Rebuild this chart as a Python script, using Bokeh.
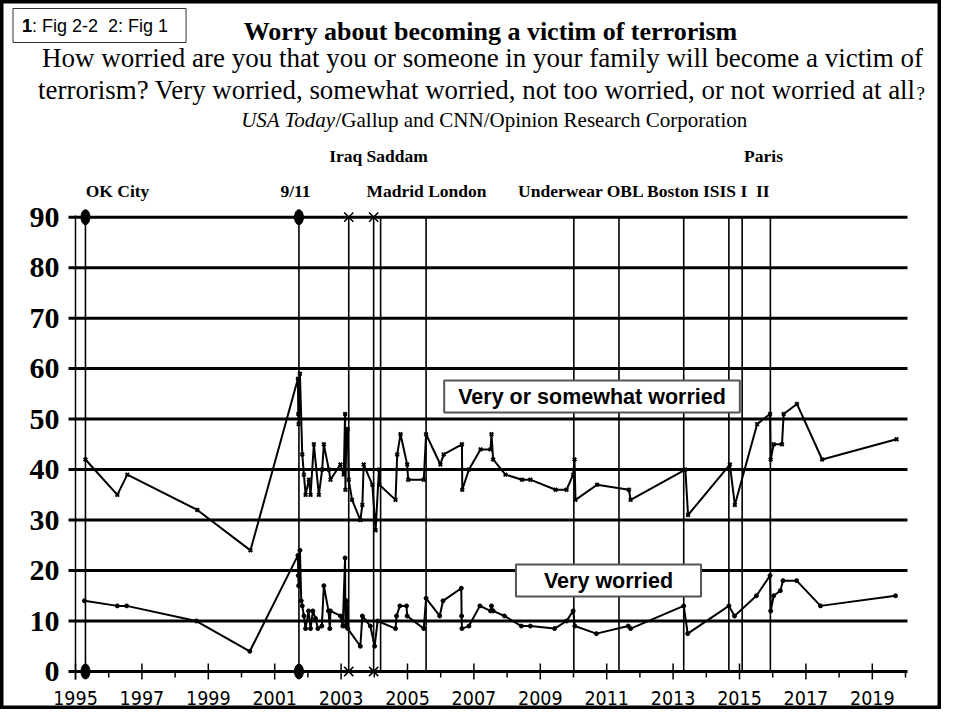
from bokeh.plotting import figure
from bokeh.models import Label, Range1d
from bokeh.embed import file_html
from bokeh.resources import INLINE
from bokeh.core.properties import value

# ---------------- data ----------------
somewhat_years = [1995.30, 1996.26, 1996.56, 1998.67, 2000.27,
                  2001.70, 2001.71, 2001.72, 2001.76, 2001.83,
                  2001.88, 2001.93, 2002.03, 2002.08, 2002.18,
                  2002.33, 2002.43, 2002.48, 2002.63, 2002.68,
                  2002.98, 2003.08, 2003.12, 2003.13, 2003.16,
                  2003.20, 2003.23, 2003.33, 2003.58, 2003.64,
                  2003.68, 2003.94, 2004.04, 2004.14, 2004.15,
                  2004.64, 2004.69, 2004.79, 2004.99, 2005.02,
                  2005.49, 2005.56, 2005.99, 2006.09, 2006.64,
                  2006.65, 2006.85, 2007.20, 2007.50, 2007.53,
                  2007.58, 2007.95, 2008.45, 2008.70, 2009.46,
                  2009.79, 2009.99, 2010.03, 2010.06, 2010.71,
                  2011.67, 2011.72, 2013.37, 2013.45, 2014.71,
                  2014.86, 2015.53, 2015.92, 2015.94, 2016.03,
                  2016.28, 2016.33, 2016.73, 2017.49, 2019.73]
somewhat_vals = [42, 35, 39, 32, 24,
                 58, 51, 49, 59, 43,
                 39, 35, 38, 35, 45,
                 35, 40, 45, 40, 38,
                 41, 39, 51, 36, 48,
                 48, 38, 34, 30, 33,
                 41, 37, 28, 40, 37,
                 34, 43, 47, 41, 38,
                 38, 47, 41, 43, 45,
                 36, 40, 44, 44, 47,
                 42, 39, 38, 38, 36,
                 36, 39, 42, 34, 37,
                 36, 34, 40, 31, 41,
                 33, 49, 51, 42, 45,
                 45, 51, 53, 42, 46]

very_years = [1995.27, 1996.26, 1996.54, 1998.64, 2000.25,
              2001.70, 2001.71, 2001.72, 2001.76, 2001.80,
              2001.83, 2001.88, 2001.93, 2002.02, 2002.08,
              2002.15, 2002.23, 2002.30, 2002.42, 2002.48,
              2002.62, 2002.66, 2002.68, 2002.98, 2003.05,
              2003.12, 2003.13, 2003.17, 2003.20, 2003.58,
              2003.64, 2003.88, 2004.01, 2004.10, 2004.64,
              2004.67, 2004.77, 2004.97, 2004.99, 2005.49,
              2005.56, 2005.97, 2006.07, 2006.62, 2006.63,
              2006.64, 2006.85, 2007.18, 2007.50, 2007.53,
              2007.58, 2007.92, 2008.43, 2008.70, 2009.43,
              2009.79, 2009.99, 2010.04, 2010.69, 2011.65,
              2011.72, 2013.32, 2013.44, 2014.68, 2014.85,
              2015.51, 2015.92, 2015.94, 2016.03, 2016.23,
              2016.31, 2016.72, 2017.44, 2019.70]
very_vals = [14, 13, 13, 10, 4,
             23, 19, 17, 24, 14,
             13, 11, 8.5, 12, 8.5,
             12, 10.5, 8.5, 9, 17,
             12, 8.5, 12, 11, 9,
             22.5, 9, 14, 8.5, 5,
             11, 9, 5, 10, 8.5,
             11, 13, 13, 11, 8.5,
             14.5, 11, 14, 16.5, 11,
             8.5, 9, 13, 12, 13,
             12, 11, 9, 9, 8.5,
             10, 12, 9, 7.5, 9,
             8.5, 13, 7.5, 13, 11,
             15, 19, 12, 15, 16,
             18, 18, 13, 15]

event_names = ["OK City", "9/11", "Iraq", "Saddam", "Madrid", "London",
               "Underwear", "OBL", "Boston", "ISIS I", "ISIS II", "Paris"]
event_dates = [1995.30, 2001.73, 2003.23, 2003.98, 2004.19, 2005.56,
               2010.01, 2011.37, 2013.32, 2014.68, 2015.08, 2015.93]
event_marks = ["dot", "dot", "x", "x", "", "", "", "", "", "", "", ""]

header_row1 = ["Iraq Saddam", "Paris"]
header_row2 = ["OK City", "9/11", "Madrid London", "Underwear OBL Boston ISIS I\u00a0 II"]

y_ticks = [0, 10, 20, 30, 40, 50, 60, 70, 80, 90]
y_tick_labels = ["0", "10", "20", "30", "40", "50", "60", "70", "80", "90"]
x_ticks = [1995, 1997, 1999, 2001, 2003, 2005, 2007, 2009, 2011, 2013, 2015, 2017, 2019]
x_tick_labels = ["1995", "1997", "1999", "2001", "2003", "2005", "2007", "2009",
                 "2011", "2013", "2015", "2017", "2019"]
x_minor = [1996, 1998, 2000, 2002, 2004, 2006, 2008, 2010, 2012, 2014, 2016, 2018, 2020]

title = "Worry about becoming a victim of terrorism"
sub1 = "How worried are you that you or someone in your family will become a victim of"
sub2 = "terrorism? Very worried, somewhat worried, not too worried, or not worried at all"
sub2_end = "?"
src_italic = "USA Today"
src_rest = "/Gallup and CNN/Opinion Research Corporation"
fig_tag = "1: Fig 2-2\u00a0 2: Fig 1"
label_vs = "Very or somewhat worried"
label_v = "Very worried"

# ---------------- layout (figure px) ----------------
W, H = 941, 709
X0_PX, Y0_PX = 75, 671          # px of year 1995 / value 0
PX_YR, PX_PT = 33.2, 5.048

x_start = 1995 - X0_PX / PX_YR
x_end = x_start + W / PX_YR
y_end = Y0_PX / PX_PT
y_start = y_end - H / PX_PT


def dx(px):  # figure px -> data x (text placement)
    return 1995 + (px - X0_PX) / PX_YR


def dy(py):
    return (Y0_PX - py) / PX_PT


p = figure(width=W, height=H, output_backend="svg", toolbar_location=None,
           x_range=Range1d(x_start, x_end), y_range=Range1d(y_start, y_end),
           x_axis_location=None, y_axis_location=None,
           min_border=0)
p.min_border_left = p.min_border_right = p.min_border_top = p.min_border_bottom = 0
for g in p.grid:
    g.visible = False
p.background_fill_color = "white"
p.border_fill_color = "white"
p.outline_line_color = "black"
p.outline_line_width = 6

# horizontal grid lines (from a bit left of 1995 to 2020)
gx0, gx1 = dx(68), dx(907)
p.segment(x0=[gx0] * len(y_ticks), y0=y_ticks, x1=[gx1] * len(y_ticks), y1=y_ticks,
          line_color="black", line_width=3)

# left axis line at 1995 and x ticks
p.segment(x0=[x_ticks[0]], y0=[dy(679)], x1=[x_ticks[0]], y1=[dy(215)],
          line_color="black", line_width=1.5)
p.segment(x0=x_ticks, y0=[dy(679)] * len(x_ticks), x1=x_ticks, y1=[dy(663)] * len(x_ticks),
          line_color="black", line_width=1.5)
p.segment(x0=x_minor, y0=[dy(677)] * len(x_minor), x1=x_minor, y1=[dy(671)] * len(x_minor),
          line_color="black", line_width=1.5)

# tick labels
p.text(x=x_ticks, y=[dy(697)] * len(x_ticks), text=x_tick_labels,
       text_font=value("'Liberation Sans Narrow', 'DejaVu Sans Condensed', sans-serif"),
       text_font_size="19.5px", text_align=value("center"), text_baseline=value("middle"),
       text_color="black")
p.text(x=[dx(59)] * len(y_ticks), y=y_ticks, text=y_tick_labels,
       text_font=value("Liberation Serif"), text_font_style=value("bold"),
       text_font_size="30px", text_align=value("right"), text_baseline=value("middle"),
       text_color="black")

# event lines
p.segment(x0=event_dates, y0=[y_ticks[0]] * len(event_dates),
          x1=event_dates, y1=[y_ticks[-1]] * len(event_dates),
          line_color="black", line_width=1.6)
dot_x = [d for d, m in zip(event_dates, event_marks) if m == "dot"]
xm_x = [d for d, m in zip(event_dates, event_marks) if m == "x"]
for yy in (y_ticks[0], y_ticks[-1]):
    p.ellipse(x=dot_x, y=[yy] * len(dot_x), width=9, height=15,
              width_units="screen", height_units="screen",
              fill_color="black", line_color="black")
    p.scatter(x=xm_x, y=[yy] * len(xm_x), marker="x", size=13,
              line_color="black", line_width=1.5)

# series
p.line(somewhat_years, somewhat_vals, line_color="black", line_width=2)
p.scatter(somewhat_years, somewhat_vals, marker="x", size=5,
          line_color="black", line_width=2)
p.line(very_years, very_vals, line_color="black", line_width=2)
p.scatter(very_years, very_vals, marker="circle", size=4,
          line_color="black", fill_color="black")

SERIF = "Liberation Serif"
SANS = "Liberation Sans"


def txt(x, y, text, size, font=SERIF, style="normal", align="center", baseline="middle"):
    xs = x if isinstance(x, list) else [x]
    ys = y if isinstance(y, list) else [y] * len(xs)
    ts = text if isinstance(text, list) else [text]
    p.text(x=xs, y=ys, text=ts, text_font=value(font), text_font_size=size,
           text_font_style=value(style), text_align=value(align),
           text_baseline=value(baseline), text_color="black")


# header texts
txt(dx(490), dy(31), title, "26px", style="bold")
txt(dx(482), dy(57), sub1, "27px")
txt(dx(915), dy(89.5), sub2, "26.9px", align="right")
txt(dx(916), dy(92.5), sub2_end, "19px", align="left")
txt(dx(335), dy(119.5), src_italic, "21px", style="italic", align="right")
txt(dx(335), dy(119.5), src_rest, "21px", align="left")

# event names above plot
row1_px = [378, 763]
row2_px = [117, 295, 426, 644]
txt([dx(v) for v in row1_px], dy(155), header_row1, "17.5px", style="bold")
txt([dx(v) for v in row2_px], dy(190.5), header_row2, "17.5px", style="bold")


def lab(x, y, text, size, font=SANS, style="normal", align="center",
        baseline="middle", **kw):
    p.add_layout(Label(x=x, y=y, text=text, text_font=font, text_font_size=size,
                       text_font_style=style, text_align=align, text_baseline=baseline,
                       text_color="black", **kw))


# figure tag box (bold digits overlaid on the plain text)
PAD_L = 9
lab(dx(12.5), dy(25), fig_tag, "18px", align="left",
    border_line_color="#333", border_line_width=1, background_fill_color="white",
    padding=dict(left=PAD_L, right=18, top=7, bottom=7))
lab(dx(12.5), dy(25), fig_tag[0], "18px", style="bold", align="left", x_offset=PAD_L)
lab(dx(12.5), dy(25), fig_tag[11], "18px", style="bold", align="left", x_offset=PAD_L + 86)

# series labels
lab(dx(591.5), dy(396), label_vs, "21.5px", style="bold",
    border_line_color="#555", border_line_width=2, background_fill_color="white",
    padding=dict(left=14, right=14, top=4, bottom=4))
lab(dx(608), dy(580), label_v, "21.5px", style="bold",
    border_line_color="#555", border_line_width=2, background_fill_color="white",
    padding=dict(left=28, right=28, top=4, bottom=4))

open("out.html", "w").write(file_html(p, INLINE))
